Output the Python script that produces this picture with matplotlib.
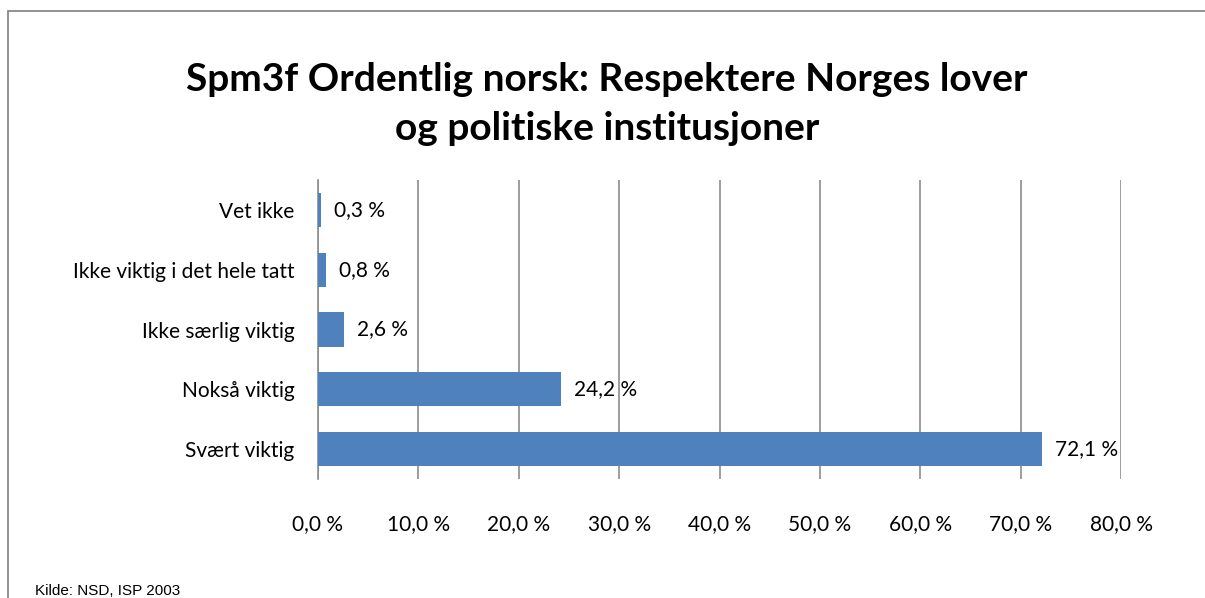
import matplotlib.pyplot as plt
from matplotlib.patches import Rectangle

categories = ['Vet ikke', 'Ikke viktig i det hele tatt', 'Ikke særlig viktig', 'Nokså viktig', 'Svært viktig']
values = [0.3, 0.8, 2.6, 24.2, 72.1]
xticks = [0, 10, 20, 30, 40, 50, 60, 70, 80]

plt.rcParams['font.family'] = ['Lato', 'DejaVu Sans']

fig = plt.figure(figsize=(12.05, 5.98), dpi=100)
ax = fig.add_axes([318 / 1205, 1 - 479 / 598, (1121 - 318) / 1205, 299 / 598])

# chart frame
fig.patches.append(Rectangle((8 / 1205, -0.1), 1.2, 1 - 11 / 598 + 0.1,
                             transform=fig.transFigure, fill=False,
                             edgecolor='#7f7f7f', lw=1.2))

ypos = range(len(categories))
ax.barh(ypos, values, height=0.57, color='#4F81BD', zorder=3)
for y, v in zip(ypos, values):
    ax.text(v + 1.3, y, f'{v:.1f} %'.replace('.', ','), va='center', ha='left', fontsize=15)

ax.set_xlim(0, 80)
ax.set_ylim(len(categories) - 0.5, -0.5)
ax.set_yticks(list(ypos))
ax.set_yticklabels(categories, fontsize=15)
ax.set_xticks(xticks)
ax.set_xticklabels([f'{t:.1f} %'.replace('.', ',') for t in xticks], fontsize=15)
ax.tick_params(axis='both', length=0)
ax.tick_params(axis='x', pad=25)
ax.tick_params(axis='y', pad=17)
ax.grid(axis='x', color='#8c8c8c', lw=1.2, zorder=0)
for s in ['top', 'right', 'bottom']:
    ax.spines[s].set_visible(False)
ax.spines['left'].set_color('#8c8c8c')
ax.spines['left'].set_linewidth(1.2)

fig.text(607 / 1205, 1 - 104 / 598, 'Spm3f Ordentlig norsk: Respektere Norges lover\nog politiske institusjoner',
         ha='center', va='center', fontsize=28, fontweight='bold', linespacing=1.45)
fig.text(35 / 1205, 1 - 584 / 598, 'Kilde: NSD, ISP 2003', ha='left', va='top',
         fontsize=11, family='Liberation Sans')

fig.savefig('out.png', dpi=100)
